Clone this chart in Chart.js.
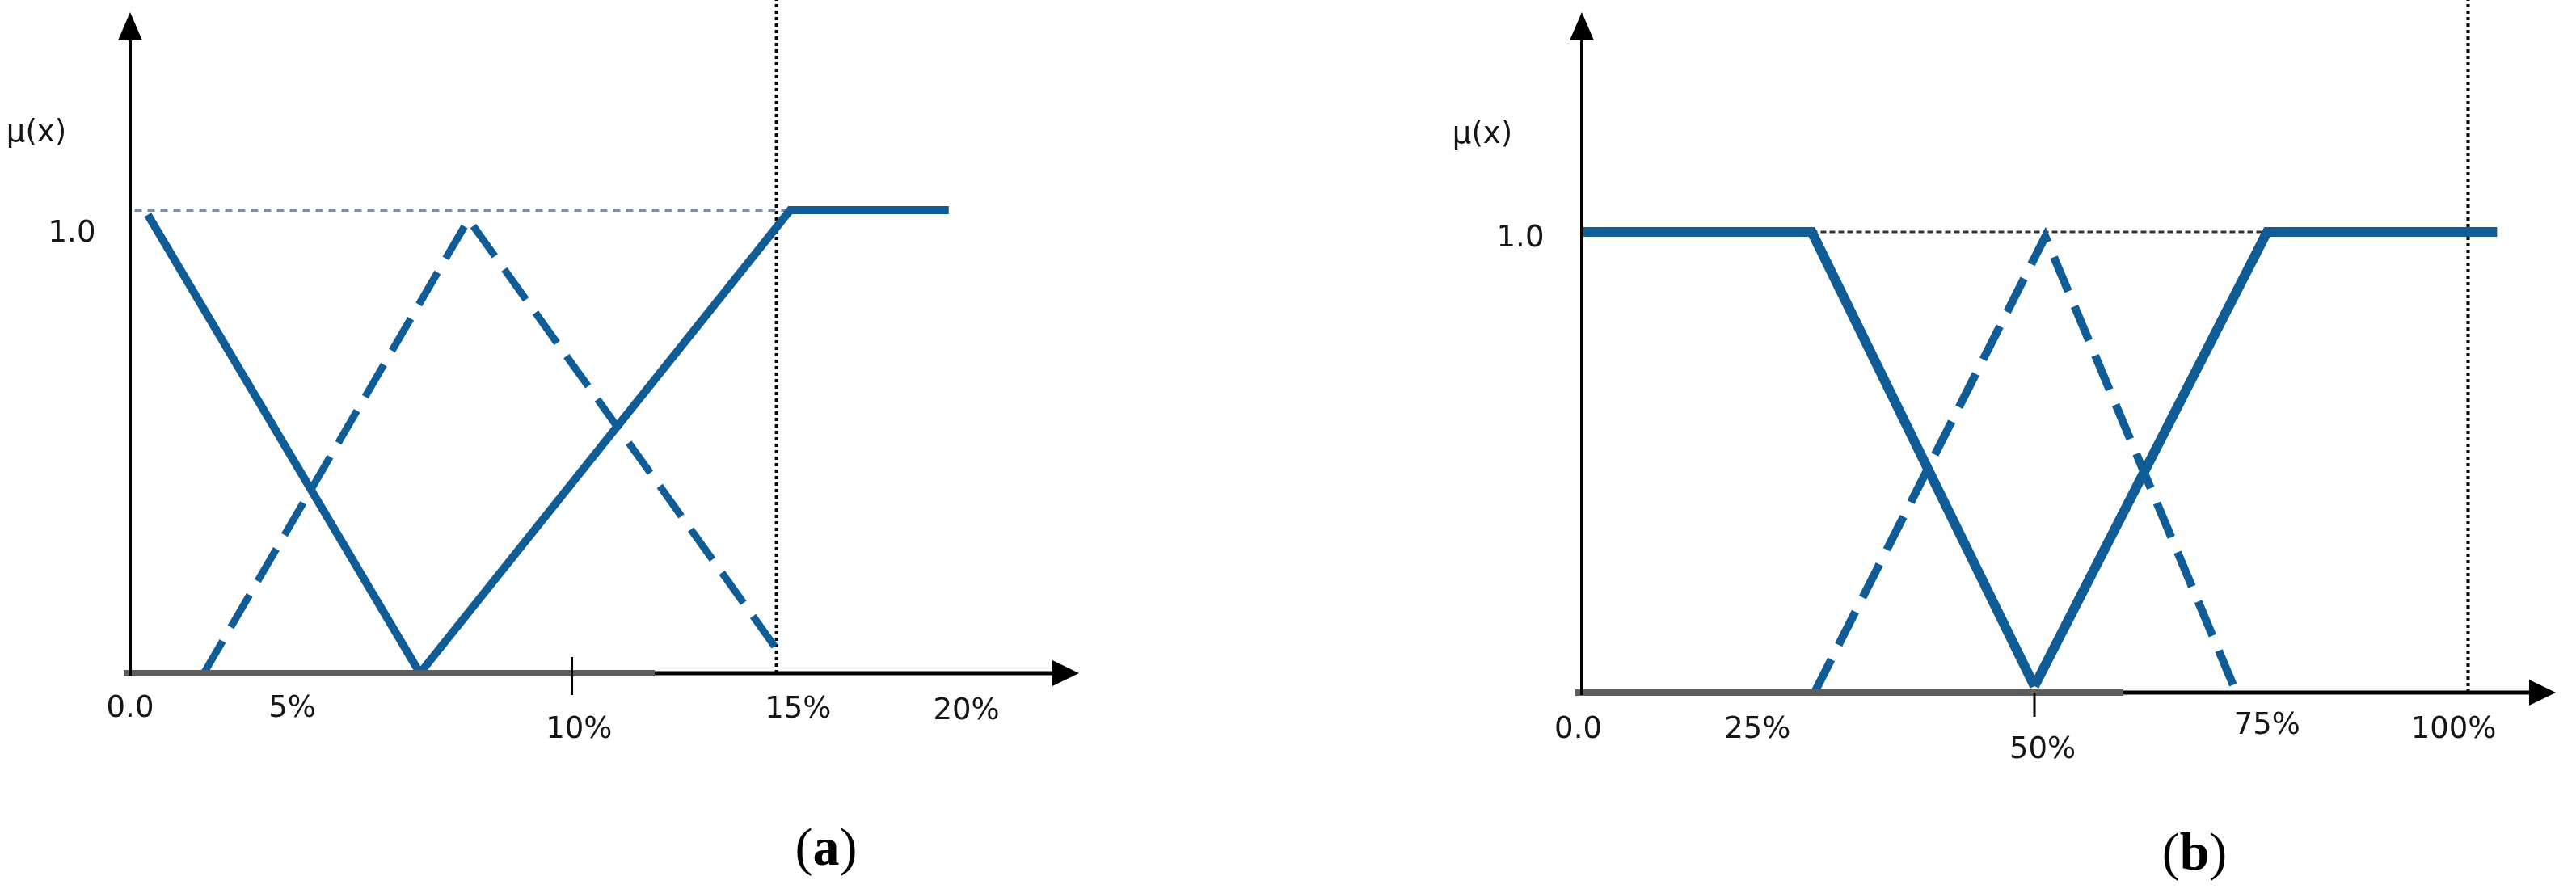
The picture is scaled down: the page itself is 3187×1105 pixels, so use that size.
<!DOCTYPE html>
<html>
<head>
<meta charset="utf-8">
<script src="https://cdn.jsdelivr.net/npm/chart.js@4/dist/chart.umd.min.js"></script>
<style>
html,body{margin:0;padding:0;background:#fff;}
body{width:3187px;height:1105px;position:relative;overflow:hidden;}
.panel{position:absolute;top:0;}
#wrapA{left:0;width:1400px;height:1000px;}
#wrapB{left:1700px;width:1487px;height:1000px;}
.cap{position:absolute;font-family:"Liberation Serif","DejaVu Serif",serif;font-size:66px;line-height:1;transform:translate(-50%,-50%);white-space:nowrap;color:#000;}
</style>
</head>
<body>
<div class="panel" id="wrapA"><canvas id="chartA" width="1400" height="1000"></canvas></div>
<div class="panel" id="wrapB"><canvas id="chartB" width="1487" height="1000"></canvas></div>
<div class="cap" style="left:1022px;top:1048px;">(<b>a</b>)</div>
<div class="cap" style="left:2715px;top:1054px;">(<b>b</b>)</div>
<script>
// ---------- Panel (a) data: x in %, y = membership degree ----------
const aLowX   = [0.4, 6.56];
const aLowY   = [0.99, 0];
const aHighX  = [6.56, 14.94, 18.53];
const aHighY  = [0, 1, 1];
const aMidX   = [1.67, 7.66, 14.8];
const aMidY   = [0, 0.98, 0.03];
const aRefX   = [0.1, 14.9];
const aRefY   = [1, 1];
const aBoundX = [14.63, 14.63];
const aBoundY = [0, 1.46];
const aTickMarks  = [10];
const aTickValues = [0, 3.67, 10.16, 15.12, 18.93];
const aTickLabels = ['0.0', '5%', '10%', '15%', '20%'];

// ---------- Panel (b) data ----------
const bLowX   = [0, 25.4, 50];
const bLowY   = [1, 1, 0.014];
const bHighX  = [50, 75.7, 101.1];
const bHighY  = [0.014, 1, 1];
const bMidX   = [25.7, 51.2, 72.3];
const bMidY   = [0, 0.99, 0];
const bRefX   = [25.4, 75.7];
const bRefY   = [1, 1];
const bBoundX = [97.9, 97.9];
const bBoundY = [0, 1.51];
const bTickMarks  = [50];
const bTickValues = [-0.4, 19.4, 50.9, 75.7, 96.3];
const bTickLabels = ['0.0', '25%', '50%', '75%', '100%'];

const yLabel = 'μ(x)';
const yTickLabel = '1.0';

function pts(xs, ys) { return xs.map((x, i) => ({x: x, y: ys[i]})); }

const BLUE = '#105c97';
const LABEL_FONT = '37px "DejaVu Sans", "Open Sans", sans-serif';

const axesPlugin = {
  id: 'fuzzyAxes',
  afterDatasetsDraw(chart, args, o) {
    const ctx = chart.ctx, ca = chart.chartArea;
    const xs = chart.scales.x, ys = chart.scales.y;
    const L = ca.left, B = ca.bottom, T = ca.top, R = ca.right;
    ctx.save();
    ctx.lineCap = 'butt';
    ctx.strokeStyle = '#5e5e5e';
    ctx.lineWidth = 8;
    ctx.beginPath(); ctx.moveTo(L - 8, B); ctx.lineTo(o.greyEnd, B); ctx.stroke();
    ctx.strokeStyle = '#000';
    ctx.lineWidth = 5;
    ctx.beginPath(); ctx.moveTo(o.greyEnd, B); ctx.lineTo(R - 30, B); ctx.stroke();
    ctx.fillStyle = '#000';
    ctx.beginPath(); ctx.moveTo(R, B); ctx.lineTo(R - 33, B - 16); ctx.lineTo(R - 33, B + 16); ctx.closePath(); ctx.fill();
    ctx.lineWidth = 4;
    ctx.beginPath(); ctx.moveTo(L, B + 3); ctx.lineTo(L, T + 45); ctx.stroke();
    ctx.beginPath(); ctx.moveTo(L, T + 15); ctx.lineTo(L - 15, T + 50); ctx.lineTo(L + 15, T + 50); ctx.closePath(); ctx.fill();
    ctx.lineWidth = 3;
    o.marks.forEach(v => {
      const px = xs.getPixelForValue(v);
      ctx.beginPath(); ctx.moveTo(px, B - o.markUp); ctx.lineTo(px, B + o.markDown); ctx.stroke();
    });
    ctx.font = LABEL_FONT;
    ctx.fillStyle = '#161616';
    ctx.textAlign = 'center';
    ctx.textBaseline = 'middle';
    o.tickValues.forEach((v, i) => {
      ctx.fillText(o.tickLabels[i], xs.getPixelForValue(v), B + o.drops[i]);
    });
    ctx.fillText(yTickLabel, L + o.oneDx, ys.getPixelForValue(1) + o.oneDy);
    ctx.fillText(yLabel, L + o.muDx, o.muY);
    ctx.restore();
  }
};

function makeChart(id, d, cfg) {
  const solid = {borderColor: BLUE, borderWidth: cfg.solidW, pointRadius: 0, fill: false, tension: 0, clip: false, borderJoinStyle: 'miter', borderCapStyle: 'butt'};
  const dashed = Object.assign({}, solid, {borderWidth: cfg.dashW, borderDash: [46, 20]});
  return new Chart(document.getElementById(id), {
    type: 'line',
    data: {
      datasets: [
        Object.assign({label: 'Low', data: d.low}, solid),
        Object.assign({label: 'High', data: d.high}, solid),
        Object.assign({label: 'Medium', data: d.mid}, dashed),
        {label: 'Level 1.0', data: d.ref, borderColor: cfg.refColor, borderWidth: cfg.refW, borderDash: cfg.refDash, pointRadius: 0, clip: false},
        {label: 'Bound', data: d.bound, borderColor: '#000', borderWidth: 4, borderDash: [4, 4], pointRadius: 0, clip: false}
      ]
    },
    options: {
      responsive: false,
      animation: false,
      devicePixelRatio: 1,
      layout: {padding: cfg.padding},
      scales: {
        x: {type: 'linear', min: cfg.xMin, max: cfg.xMax, display: false},
        y: {type: 'linear', min: 0, max: cfg.yMax, display: false}
      },
      plugins: {
        legend: {display: false},
        tooltip: {enabled: false},
        fuzzyAxes: cfg.axes
      }
    },
    plugins: [axesPlugin]
  });
}

makeChart('chartA', {
  low: pts(aLowX, aLowY), high: pts(aHighX, aHighY), mid: pts(aMidX, aMidY),
  ref: pts(aRefX, aRefY), bound: pts(aBoundX, aBoundY)
}, {
  solidW: 10, dashW: 9, refColor: '#7f8ea6', refW: 4, refDash: [9, 7],
  padding: {left: 161, right: 65, top: 0, bottom: 167},
  xMin: 0, xMax: 21.48, yMax: 1.4538,
  axes: {greyEnd: 810, marks: aTickMarks, markUp: 20, markDown: 27,
         tickValues: aTickValues, tickLabels: aTickLabels, drops: [44, 44, 70, 45, 47],
         oneDx: -72, oneDy: 29, muDx: -116, muY: 165}
});

makeChart('chartB', {
  low: pts(bLowX, bLowY), high: pts(bHighX, bHighY), mid: pts(bMidX, bMidY),
  ref: pts(bRefX, bRefY), bound: pts(bBoundX, bBoundY)
}, {
  solidW: 12, dashW: 10, refColor: '#333333', refW: 3, refDash: [7, 4],
  padding: {left: 257, right: 25, top: 0, bottom: 143},
  xMin: 0, xMax: 107.59, yMax: 1.5035,
  axes: {greyEnd: 927, marks: bTickMarks, markUp: 0, markDown: 30,
         tickValues: bTickValues, tickLabels: bTickLabels, drops: [46, 46, 71, 41, 46],
         oneDx: -76, oneDy: 8, muDx: -123, muY: 167}
});
</script>
</body>
</html>
